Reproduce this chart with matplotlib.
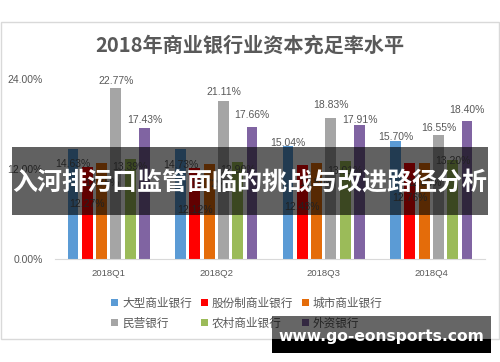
import matplotlib
matplotlib.use("Agg")
import matplotlib.pyplot as plt
from matplotlib.patches import Rectangle
import numpy as np

quarters = ["2018Q1", "2018Q2", "2018Q3", "2018Q4"]
series_names = ["大型商业银行", "股份制商业银行", "城市商业银行", "民营银行", "农村商业银行", "外资银行"]
large = [14.63, 14.73, 15.04, 15.70]
joint = [12.27, 12.12, 12.48, 12.76]
city = [12.75, 12.72, 12.80, 12.80]
private = [22.77, 21.11, 18.83, 16.55]
rural = [13.39, 12.90, 13.01, 13.20]
foreign = [17.43, 17.66, 17.91, 18.40]
yticks = [0, 12, 24]
title = "2018年商业银行业资本充足率水平"
banner = "入河排污口监管面临的挑战与改进路径分析"
watermark = "www.go-eonsports.com"

colors = ["#5B9BD5", "#FF0000", "#E46C0A", "#A5A5A5", "#9BBB59", "#8064A2"]
# label vertical offsets (pixels, relative to bar top)
label_off = [
    [-15, -16, 3, 4],
    [-37, -42, -42, -35],
    [-20, -20, -20, -20],
    [7, 9, 13, 7],
    [-8, -8, -10, -1],
    [8, 12, 5, 11],
]

W, H = 500, 362
fig = plt.figure(figsize=(5, 3.62), dpi=100)
fig.patch.set_facecolor("white")

def fx(px):
    return px / W

def fy(py):
    return 1 - py / H

# card
fig.add_artist(Rectangle((fx(0.5), fy(339)), fx(498.5), (339 - 22) / H,
                         transform=fig.transFigure, facecolor="white",
                         edgecolor="#D9D9D9", linewidth=1.0, zorder=-1))

ax = fig.add_axes([fx(55), fy(259), fx(485 - 55), (259 - 79) / H])
ax.set_facecolor("none")
data = [large, joint, city, private, rural, foreign]
x = np.arange(len(quarters))
step = 0.133
width = 0.102
lab_font = "Liberation Sans"
handles = []
for i, (vals, c) in enumerate(zip(data, colors)):
    xs = x + (i - 2.5) * step
    b = ax.bar(xs, vals, width=width, color=c, label=series_names[i], zorder=2)
    handles.append(b)
    for j, (xx, v) in enumerate(zip(xs, vals)):
        ax.annotate(f"{v:.2f}%", (xx, v), xytext=(0, label_off[i][j]),
                    textcoords="offset pixels", ha="center", va="center",
                    fontsize=7.5, color="#595959", family=lab_font, zorder=3)

ax.set_xlim(-0.5, 3.5)
ax.set_ylim(0, 24)
ax.set_yticks(yticks)
ax.set_yticklabels([f"{t:.2f}%" for t in yticks], family=lab_font, fontsize=7.5, color="#595959")
ax.set_xticks(x)
ax.set_xticklabels(quarters, family=lab_font, fontsize=6.8, color="#595959")
ax.tick_params(length=0)
ax.tick_params(axis="x", pad=7)
ax.tick_params(axis="y", pad=9)
for s in ["top", "right", "left"]:
    ax.spines[s].set_visible(False)
ax.spines["bottom"].set_color("#D9D9D9")

fig.text(0.5, fy(45), title, ha="center", va="center", fontsize=14.5,
         fontweight="bold", color="#595959", family=["Noto Sans CJK SC", "DejaVu Sans"])

order = [0, 3, 1, 4, 2, 5]
leg = fig.legend([handles[k] for k in order], [series_names[k] for k in order],
                 ncol=3, loc="center", bbox_to_anchor=(fx(247), fy(313)),
                 frameon=False, prop={"family": "Noto Sans CJK SC", "size": 8.4},
                 handlelength=0.6, handleheight=0.6, handletextpad=0.3,
                 columnspacing=0.8, labelspacing=0.6, labelcolor="#595959")

# overlay banner
fig.add_artist(Rectangle((fx(12), fy(215)), fx(488 - 12), (215 - 147) / H,
                         transform=fig.transFigure, facecolor="black", alpha=0.62,
                         edgecolor="none", zorder=8))
fig.text(fx(250), fy(183), banner, ha="center", va="center", fontsize=18,
         fontweight="bold", color="white", family=["Noto Sans CJK SC", "DejaVu Sans"], zorder=9)

# watermark
fig.add_artist(Rectangle((fx(272), fy(339)), fx(491 - 272), (339 - 316) / H,
                         transform=fig.transFigure, facecolor="black", alpha=0.6,
                         edgecolor="none", zorder=10))
fig.add_artist(Rectangle((fx(272), fy(353)), fx(491 - 272), (353 - 339) / H,
                         transform=fig.transFigure, facecolor="black",
                         edgecolor="none", zorder=10))
fig.text(fx(381), fy(337), watermark, ha="center", va="center", fontsize=11.2,
         fontweight="bold", color="white", family="DejaVu Sans", zorder=11)

fig.savefig("out.png", dpi=100, facecolor="white")
